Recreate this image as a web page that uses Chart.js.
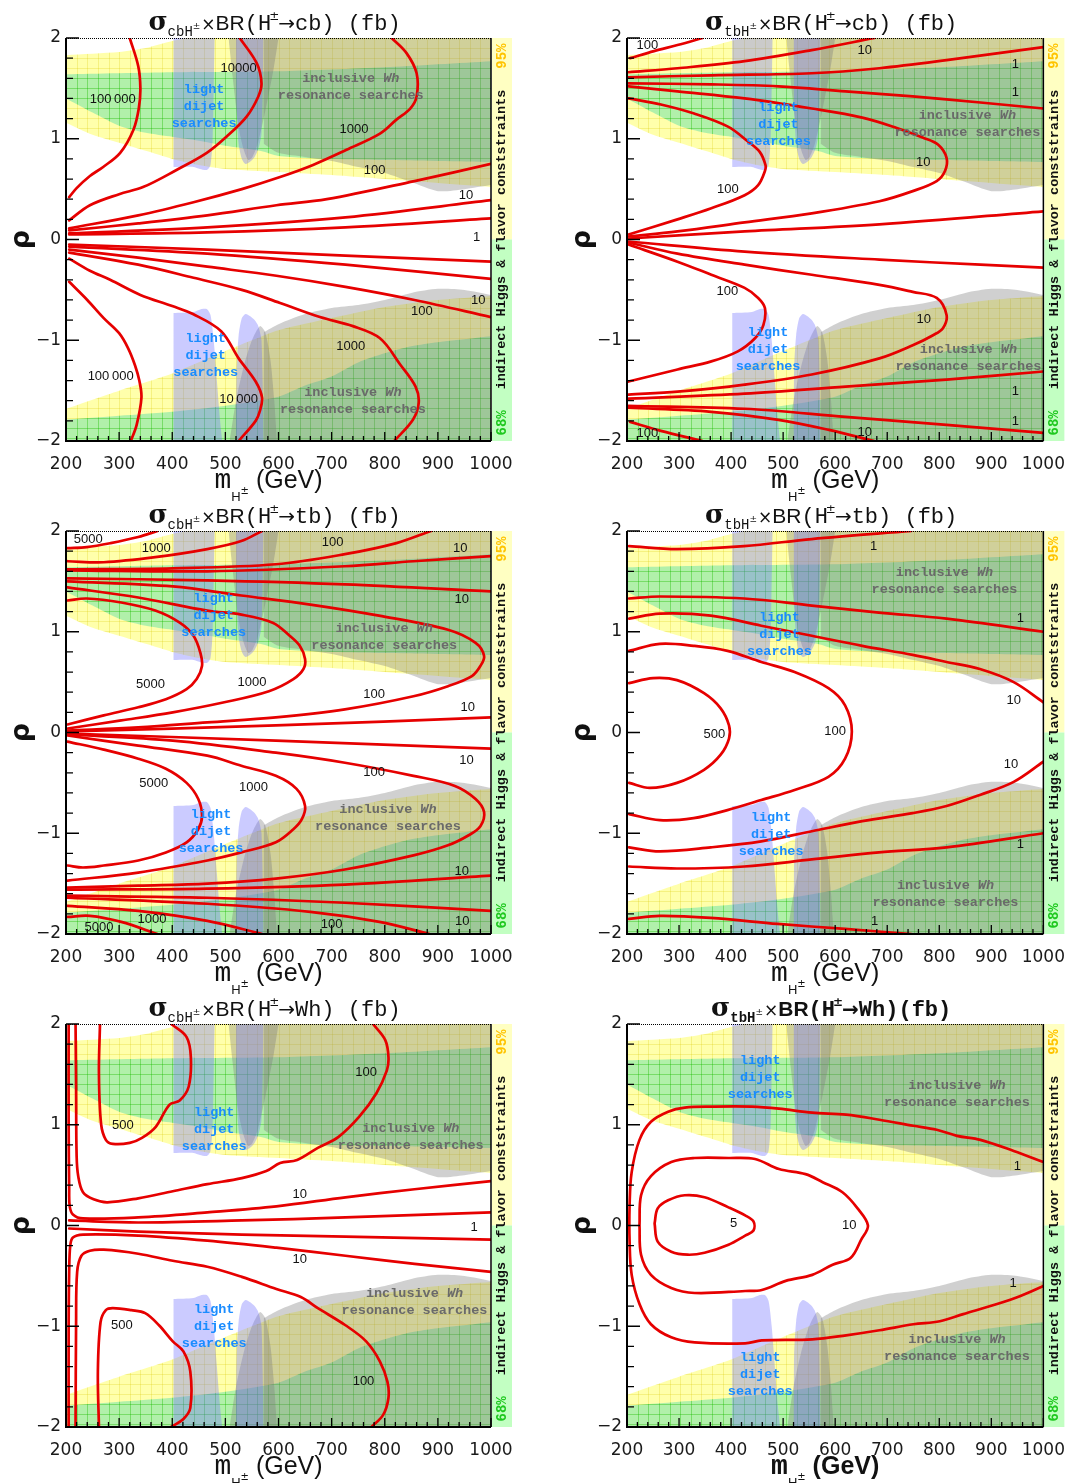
<!DOCTYPE html>
<html>
<head>
<meta charset="utf-8">
<script src="https://cdn.jsdelivr.net/npm/chart.js@4.4.1/dist/chart.umd.min.js"></script>
<style>
  html, body { margin: 0; padding: 0; background: #fff; overflow: hidden; }
  #wrap { position: relative; width: 1078px; height: 1483px; }
  canvas { position: absolute; }
</style>
</head>
<body>
<div id="wrap"></div>
<script>
// ---- constraint regions, shared by all six panels: [m_H (GeV), rho] ----
const yelUpTop = [[200,1.83],[300,1.86],[350,1.90],[400,1.97],[430,2.0],[1000,2.0]];
const yelUpBot = [[200,1.16],[250,1.04],[300,0.96],[350,0.88],[400,0.80],[450,0.74],[500,0.70],[600,0.67],[700,0.64],[800,0.60],[900,0.56],[1000,0.52]];
const grnUpTop = [[200,1.64],[400,1.66],[600,1.67],[800,1.71],[1000,1.77]];
const grnUpBot = [[200,1.40],[250,1.26],[300,1.13],[350,1.06],[400,1.02],[450,0.98],[500,0.93],[565,0.88],[600,0.83],[700,0.80],[800,0.79],[1000,0.77]];
const yelLoTop = [[200,-1.68],[300,-1.50],[400,-1.33],[480,-1.15],[550,-1.0],[600,-0.9],[700,-0.78],[800,-0.67],[900,-0.6],[1000,-0.56]];
const grnLoTop = [[200,-1.79],[300,-1.75],[400,-1.71],[500,-1.65],[600,-1.56],[650,-1.45],[700,-1.36],[750,-1.22],[800,-1.13],[850,-1.06],[900,-1.02],[1000,-0.96]];
const grayUpWide = [[572,0.95],[600,0.86],[650,0.82],[700,0.78],[750,0.72],[800,0.66],[850,0.57],[900,0.48],[950,0.50],[1000,0.54]];
const grayUpDrop = [[506,2.0],[514,1.6],[524,1.15],[534,0.90],[543,0.79],[551,0.82],[561,0.95],[576,1.3],[591,1.7],[600,2.0]];
const grayLoWide = [[572,-0.92],[600,-0.84],[650,-0.74],[700,-0.68],[750,-0.65],[800,-0.60],[850,-0.53],[900,-0.49],[950,-0.50],[1000,-0.55]];
const grayLoDrop = [[508,-2.0],[520,-1.6],[535,-1.25],[550,-1.0],[565,-0.86],[575,-0.92],[585,-1.2],[592,-1.6],[597,-2.0]];
const blueUpRect = [[402,0.72],[440,0.72],[452,0.70],[465,0.69],[472,0.74],[476,1.0],[478,1.5],[480,2.0]];
const blueUpLobe = [[520,2.0],[521,1.3],[525,0.95],[531,0.80],[538,0.75],[546,0.77],[555,0.82],[562,0.90],[568,1.05],[572,2.0]];
const blueLoRect = [[402,-0.73],[440,-0.72],[455,-0.69],[465,-0.69],[472,-0.75],[478,-1.0],[484,-1.4],[490,-1.8],[494,-2.0]];
const blueLoLobe = [[520,-2.0],[521,-1.3],[525,-0.95],[531,-0.78],[538,-0.74],[546,-0.76],[555,-0.80],[562,-0.86],[568,-1.0],[572,-2.0]];

// ---- panel 1: sigma_cbH x BR(H -> cb) ----
const cbcb_1e5u = [[206,0.42],[220,0.51],[245,0.63],[270,0.72],[302,0.86],[327,1.09],[337,1.30],[340,1.50],[336,1.72],[320,2.0]];
const cbcb_1e4u = [[206,0.19],[245,0.34],[300,0.45],[345,0.52],[408,0.69],[465,0.86],[502,1.02],[540,1.22],[562,1.42],[568,1.55],[559,1.75],[527,2.0]];
const cbcb_1e3u = [[206,0.11],[336,0.24],[440,0.37],[531,0.50],[603,0.62],[665,0.74],[728,0.89],[791,1.05],[822,1.19],[848,1.30],[860,1.42],[860,1.65],[841,1.85],[813,2.0]];
const cbcb_100u = [[206,0.09],[336,0.16],[466,0.24],[596,0.34],[691,0.40],[856,0.58],[1000,0.75]];
const cbcb_10u = [[206,0.06],[466,0.12],[726,0.22],[1000,0.39]];
const cbcb_1u = [[206,0.05],[466,0.07],[726,0.12],[1000,0.21]];
const cbcb_1l = [[206,-0.05],[466,-0.10],[726,-0.16],[1000,-0.22]];
const cbcb_10l = [[206,-0.07],[466,-0.14],[726,-0.25],[1000,-0.39]];
const cbcb_100l = [[206,-0.10],[336,-0.18],[466,-0.27],[596,-0.36],[726,-0.47],[856,-0.60],[1000,-0.77]];
const cbcb_1e3l = [[206,-0.13],[336,-0.25],[440,-0.38],[531,-0.50],[603,-0.63],[678,-0.77],[740,-0.86],[791,-0.98],[829,-1.24],[858,-1.46],[864,-1.62],[853,-1.79],[818,-2.0]];
const cbcb_1e4l = [[206,-0.19],[245,-0.31],[283,-0.40],[340,-0.55],[400,-0.66],[439,-0.74],[492,-0.91],[525,-1.18],[557,-1.41],[569,-1.57],[565,-1.70],[557,-1.80],[525,-2.0]];
const cbcb_1e5l = [[206,-0.42],[240,-0.60],[271,-0.78],[300,-0.93],[317,-1.08],[330,-1.25],[338,-1.40],[342,-1.57],[333,-1.84],[322,-2.0]];

// ---- panel 2: sigma_tbH x BR(H -> cb) ----
const tbcb_100a = [[206,1.80],[252,1.87],[297,1.93],[345,2.0]];
const tbcb_10a = [[203,1.66],[297,1.70],[426,1.77],[555,1.88],[675,2.0]];
const tbcb_1a = [[203,1.61],[362,1.63],[555,1.65],[685,1.70],[814,1.78],[1000,1.91]];
const tbcb_1b = [[203,1.55],[362,1.54],[491,1.52],[620,1.47],[749,1.42],[879,1.36],[1000,1.30]];
const tbcb_10u = [[203,1.52],[297,1.47],[426,1.40],[555,1.30],[652,1.21],[717,1.11],[769,1.01],[798,0.94],[814,0.81],[811,0.68],[795,0.58],[749,0.48],[685,0.38],[555,0.26],[426,0.17],[297,0.08],[203,0.03]];
const tbcb_100u = [[203,1.40],[265,1.34],[329,1.25],[394,1.12],[433,0.97],[455,0.87],[466,0.74],[465,0.68],[452,0.54],[426,0.44],[362,0.31],[297,0.20],[203,0.05]];
const tbcb_1u = [[203,0.01],[426,0.08],[685,0.15],[1000,0.28]];
const tbcb_1l = [[203,-0.02],[426,-0.12],[685,-0.20],[879,-0.25],[1000,-0.28]];
const tbcb_100l = [[203,-0.05],[297,-0.22],[362,-0.35],[426,-0.48],[452,-0.58],[465,-0.68],[462,-0.85],[446,-0.98],[413,-1.11],[362,-1.21],[297,-1.29],[203,-1.41]];
const tbcb_10l = [[203,-0.03],[297,-0.14],[426,-0.25],[555,-0.35],[685,-0.45],[749,-0.52],[795,-0.58],[814,-0.75],[807,-0.88],[788,-0.95],[749,-1.05],[685,-1.18],[555,-1.34],[426,-1.44],[297,-1.51],[203,-1.54]];
const tbcb_1c = [[203,-1.58],[426,-1.53],[620,-1.46],[814,-1.39],[1000,-1.31]];
const tbcb_1d = [[203,-1.65],[426,-1.68],[620,-1.76],[814,-1.84],[1000,-1.92]];
const tbcb_10b = [[203,-1.67],[362,-1.71],[491,-1.79],[588,-1.89],[675,-2.0]];
const tbcb_100b = [[206,-1.81],[265,-1.90],[345,-2.0]];

// ---- panel 3: sigma_cbH x BR(H -> tb) ----
const cbtb_5000a = [[203,1.83],[239,1.84],[284,1.88],[336,1.94],[372,2.0]];
const cbtb_1000a = [[203,1.70],[271,1.69],[368,1.74],[466,1.82],[530,1.90],[569,2.0]];
const cbtb_100a = [[203,1.62],[401,1.63],[595,1.67],[725,1.77],[822,1.88],[887,2.0]];
const cbtb_10a = [[203,1.61],[466,1.60],[725,1.65],[854,1.70],[1000,1.75]];
const cbtb_10b = [[203,1.53],[466,1.51],[725,1.47],[1000,1.40]];
const cbtb_10u = [[203,1.50],[401,1.45],[530,1.36],[660,1.27],[789,1.16],[919,1.02],[971,0.89],[987,0.76],[980,0.66],[964,0.56],[919,0.46],[854,0.36],[725,0.23],[595,0.15],[466,0.10],[336,0.05],[203,0.02]];
const cbtb_1000u = [[203,1.44],[336,1.34],[466,1.21],[530,1.17],[589,1.09],[621,0.96],[640,0.86],[650,0.73],[647,0.63],[628,0.53],[582,0.41],[498,0.30],[401,0.20],[304,0.12],[203,0.04]];
const cbtb_5000u = [[203,1.31],[239,1.33],[304,1.29],[368,1.21],[414,1.09],[440,0.96],[453,0.79],[456,0.66],[446,0.53],[427,0.43],[388,0.33],[336,0.25],[271,0.17],[203,0.08]];
const cbtb_0u = [[203,0.01],[595,0.07],[1000,0.15]];
const cbtb_0l = [[203,-0.01],[595,-0.08],[1000,-0.16]];
const cbtb_10l = [[203,-0.02],[401,-0.08],[595,-0.20],[725,-0.30],[854,-0.43],[932,-0.53],[971,-0.66],[987,-0.79],[980,-0.93],[958,-1.02],[919,-1.12],[854,-1.22],[725,-1.36],[595,-1.45],[466,-1.50],[336,-1.52],[203,-1.54]];
const cbtb_1000l = [[203,-0.03],[336,-0.13],[466,-0.23],[530,-0.33],[595,-0.43],[634,-0.56],[650,-0.73],[644,-0.86],[628,-0.96],[595,-1.09],[530,-1.19],[466,-1.27],[336,-1.39],[203,-1.47]];
const cbtb_5000l = [[203,-0.09],[271,-0.17],[336,-0.26],[388,-0.36],[427,-0.50],[449,-0.66],[456,-0.83],[449,-0.96],[427,-1.09],[388,-1.19],[336,-1.27],[271,-1.32],[232,-1.34],[203,-1.32]];
const cbtb_10c = [[203,-1.56],[466,-1.55],[725,-1.51],[1000,-1.42]];
const cbtb_10d = [[203,-1.62],[466,-1.64],[725,-1.69],[1000,-1.77]];
const cbtb_100b = [[203,-1.64],[466,-1.70],[660,-1.78],[790,-1.88],[884,-2.0]];
const cbtb_1000b = [[203,-1.72],[336,-1.77],[466,-1.87],[569,-2.0]];
const cbtb_5000b = [[203,-1.83],[245,-1.82],[304,-1.88],[372,-2.0]];

// ---- panel 4: sigma_tbH x BR(H -> tb) ----
const tbtb_1a = [[204,1.85],[296,1.82],[425,1.85],[555,1.92],[746,2.0]];
const tbtb_1b = [[204,1.33],[263,1.35],[425,1.33],[555,1.26],[684,1.19],[814,1.13],[1000,1.0]];
const tbtb_10u = [[204,1.13],[263,1.18],[361,1.16],[458,1.06],[555,0.96],[652,0.86],[749,0.77],[814,0.70],[878,0.63],[943,0.50],[1000,0.30]];
const tbtb_100 = [[204,0.81],[263,0.88],[328,0.86],[393,0.81],[458,0.70],[522,0.60],[587,0.44],[619,0.27],[632,0.01],[619,-0.26],[587,-0.44],[522,-0.57],[458,-0.67],[393,-0.77],[328,-0.85],[263,-0.87],[204,-0.81]];
const tbtb_500 = [[204,0.49],[250,0.54],[296,0.52],[348,0.39],[380,0.24],[396,0.07],[396,-0.06],[380,-0.22],[348,-0.37],[296,-0.50],[244,-0.55],[204,-0.50]];
const tbtb_10l = [[204,-1.14],[263,-1.18],[361,-1.14],[458,-1.08],[555,-0.98],[652,-0.88],[749,-0.80],[814,-0.73],[878,-0.62],[943,-0.49],[1000,-0.29]];
const tbtb_1c = [[204,-1.33],[296,-1.35],[425,-1.33],[555,-1.26],[684,-1.19],[814,-1.14],[1000,-1.0]];
const tbtb_1d = [[204,-1.85],[263,-1.82],[361,-1.84],[490,-1.90],[619,-1.95],[746,-2.0]];

// ---- panel 5: sigma_cbH x BR(H -> Wh) ----
const cbwh_10u = [[1000,0.44],[856,0.36],[726,0.28],[596,0.19],[466,0.13],[336,0.08],[232,0.07],[213,0.11],[207,0.19],[206,0.36],[205,1.01],[205,2.0]];
const cbwh_1u = [[206,0.05],[336,0.03],[531,0.05],[726,0.08],[1000,0.13]];
const cbwh_100u = [[218,2.0],[219,1.34],[220,0.69],[223,0.49],[232,0.33],[252,0.26],[278,0.23],[336,0.27],[401,0.34],[466,0.41],[531,0.47],[577,0.54],[603,0.62],[635,0.65],[674,0.77],[713,0.88],[752,1.08],[784,1.31],[804,1.54],[807,1.67],[801,1.84],[778,2.0]];
const cbwh_500u = [[264,2.0],[262,1.51],[266,1.01],[275,0.85],[288,0.81],[320,0.82],[343,0.87],[369,0.98],[395,1.20],[414,1.24],[431,1.38],[435,1.67],[427,1.87],[398,2.0]];
const cbwh_1l = [[206,-0.03],[336,-0.06],[531,-0.09],[726,-0.11],[1000,-0.14]];
const cbwh_10l = [[1000,-0.46],[856,-0.38],[726,-0.30],[596,-0.22],[466,-0.15],[336,-0.10],[232,-0.09],[213,-0.12],[208,-0.20],[206,-0.46],[205,-1.0],[205,-2.0]];
const cbwh_100l = [[218,-2.0],[219,-0.96],[221,-0.46],[229,-0.30],[245,-0.25],[271,-0.24],[336,-0.28],[401,-0.35],[466,-0.41],[531,-0.51],[596,-0.63],[642,-0.71],[674,-0.82],[726,-0.99],[765,-1.15],[791,-1.35],[805,-1.55],[807,-1.71],[797,-1.88],[775,-2.0]];
const cbwh_500l = [[262,-2.0],[260,-1.45],[265,-0.96],[275,-0.84],[288,-0.82],[323,-0.84],[349,-0.87],[375,-0.99],[401,-1.15],[421,-1.25],[434,-1.45],[434,-1.81],[421,-1.92],[398,-2.0]];

// ---- panel 6: sigma_tbH x BR(H -> Wh) ----
const tbwh_1 = [[1000,0.63],[943,0.74],[879,0.85],[834,0.89],[795,0.95],[750,0.99],[685,1.05],[621,1.10],[556,1.12],[492,1.16],[440,1.18],[363,1.18],[311,1.17],[279,1.13],[246,1.03],[224,0.85],[209,0.53],[205,0.20],[205,-0.16],[209,-0.49],[224,-0.78],[246,-0.98],[285,-1.11],[330,-1.16],[427,-1.17],[459,-1.14],[556,-1.13],[621,-1.09],[685,-1.04],[750,-0.98],[801,-0.95],[846,-0.88],[911,-0.78],[956,-0.70],[1000,-0.60]];
const tbwh_10 = [[224,0.0],[227,0.30],[246,0.49],[285,0.63],[330,0.67],[395,0.67],[446,0.66],[492,0.56],[543,0.51],[576,0.43],[614,0.33],[643,0.17],[663,0.0],[650,-0.14],[630,-0.32],[595,-0.39],[556,-0.49],[505,-0.55],[459,-0.64],[427,-0.65],[330,-0.67],[285,-0.62],[246,-0.49],[227,-0.29],[224,0.0]];
const tbwh_5 = [[253,0.02],[259,0.17],[279,0.25],[311,0.30],[349,0.28],[395,0.18],[427,0.10],[443,0.04],[443,-0.05],[427,-0.10],[395,-0.19],[349,-0.27],[317,-0.29],[285,-0.26],[259,-0.16],[253,0.02]];

// ---- contour value labels: [text, m_H, rho] ----
const cbcbLabels = [['100\u2009000',288,1.39],['10000',525,1.70],['1000',742,1.09],['100',781,0.69],['10',953,0.44],['1',973,0.02],['10',976,-0.60],['100',870,-0.71],['1000',736,-1.06],['100\u2009000',284,-1.36],['10\u2009000',525,-1.59]];
const tbcbLabels = [['100',239,1.93],['10',657,1.88],['1',946,1.74],['1',946,1.46],['10',769,0.77],['100',394,0.50],['100',393,-0.52],['10',770,-0.79],['1',946,-1.51],['1',946,-1.81],['10',657,-1.91],['100',239,-1.92]];
const cbtbLabels = [['5000',242,1.92],['1000',370,1.83],['100',702,1.89],['10',942,1.83],['10',945,1.32],['5000',359,0.48],['1000',550,0.50],['100',780,0.38],['10',956,0.25],['10',954,-0.28],['100',780,-0.40],['5000',365,-0.51],['1000',553,-0.55],['10',945,-1.38],['1000',362,-1.86],['100',700,-1.90],['10',946,-1.88],['5000',262,-1.93]];
const tbtbLabels = [['1',674,1.85],['1',956,1.13],['10',943,0.32],['500',368,-0.02],['100',600,0.01],['10',938,-0.32],['1',956,-1.11],['1',676,-1.88]];
const cbwhLabels = [['500',307,0.99],['100',765,1.52],['10',640,0.31],['1',968,-0.02],['10',640,-0.34],['500',305,-0.99],['100',760,-1.55]];
const tbwhLabels = [['5',405,0.02],['10',627,0.0],['1',950,0.59],['1',942,-0.57]];

const panels = [
  {row:0, col:0, prod:'cb', decay:'cb', labels:cbcbLabels, dijet:[[460,1.32],[463,-1.15]], wh:[[736,1.51],[740,-1.60]],
   curves:[cbcb_1e5u,cbcb_1e4u,cbcb_1e3u,cbcb_100u,cbcb_10u,cbcb_1u,cbcb_1l,cbcb_10l,cbcb_100l,cbcb_1e3l,cbcb_1e4l,cbcb_1e5l]},
  {row:0, col:1, prod:'tb', decay:'cb', labels:tbcbLabels, dijet:[[491,1.14],[471,-1.09]], wh:[[854,1.15],[856,-1.18]],
   curves:[tbcb_100a,tbcb_10a,tbcb_1a,tbcb_1b,tbcb_10u,tbcb_100u,tbcb_1u,tbcb_1l,tbcb_100l,tbcb_10l,tbcb_1c,tbcb_1d,tbcb_10b,tbcb_100b]},
  {row:1, col:0, prod:'cb', decay:'tb', labels:cbtbLabels, dijet:[[478,1.16],[473,-0.98]], wh:[[799,0.95],[806,-0.85]],
   curves:[cbtb_5000a,cbtb_1000a,cbtb_100a,cbtb_10a,cbtb_10b,cbtb_10u,cbtb_1000u,cbtb_5000u,cbtb_0u,cbtb_0l,cbtb_10l,cbtb_1000l,cbtb_5000l,cbtb_10c,cbtb_10d,cbtb_100b,cbtb_1000b,cbtb_5000b]},
  {row:1, col:1, prod:'tb', decay:'tb', labels:tbtbLabels, dijet:[[493,0.97],[477,-1.01]], wh:[[810,1.50],[812,-1.60]],
   curves:[tbtb_1a,tbtb_1b,tbtb_10u,tbtb_100,tbtb_500,tbtb_10l,tbtb_1c,tbtb_1d]},
  {row:2, col:0, prod:'cb', decay:'Wh', labels:cbwhLabels, dijet:[[479,0.95],[479,-1.00]], wh:[[849,0.88],[856,-0.76]],
   curves:[cbwh_10u,cbwh_1u,cbwh_100u,cbwh_500u,cbwh_1l,cbwh_10l,cbwh_100l,cbwh_500l]},
  {row:2, col:1, prod:'tb', decay:'Wh', bold:true, labels:tbwhLabels, dijet:[[456,1.47],[456,-1.48]], wh:[[834,1.30],[834,-1.22]],
   curves:[tbwh_1,tbwh_10,tbwh_5]}
];

const W = 539, H = 505, ROWH = 493;
const plotL = [66, 88], plotR = [491, 512];
const GRAY = 'rgba(120,120,120,0.35)';
const BLUE = 'rgba(110,110,255,0.36)';

function hatch(fill, line, ox, oy) {
  const c = document.createElement('canvas');
  c.width = 85; c.height = 40;
  const g = c.getContext('2d');
  g.fillStyle = fill; g.fillRect(0, 0, 85, 40);
  g.fillStyle = line;
  for (let i = 0; i < 8; i++) g.fillRect(Math.round(i * 10.625), 0, 1, 40);
  for (let j = 0; j < 4; j++) g.fillRect(0, j * 10, 85, 1);
  const p = g.createPattern(c, 'repeat');
  p.setTransform(new DOMMatrix().translate(ox, oy));
  return p;
}

function pts(a) { return a.map(p => ({x: p[0], y: p[1]})); }

function region(a, fill, bg, order) {
  return {data: pts(a), fill: fill, backgroundColor: bg, borderColor: 'rgba(0,0,0,0)',
          borderWidth: 0, pointRadius: 0, tension: 0.25, order: order};
}

function contour(a) {
  return {data: pts(a), fill: false, borderColor: '#e60000', borderWidth: 2.7, pointRadius: 0,
          tension: 0.35, order: 0, borderJoinStyle: 'round', borderCapStyle: 'round'};
}

function rotText(ctx, t, cx, cy, font, color) {
  ctx.save();
  ctx.translate(cx, cy);
  ctx.rotate(-Math.PI / 2);
  ctx.font = font; ctx.fillStyle = color;
  ctx.textAlign = 'center'; ctx.textBaseline = 'middle';
  ctx.fillText(t, 0, 0);
  ctx.restore();
}

// draws a row of [text, font, dy, dx] runs centred on cx
function runs(ctx, list, cx, base, color) {
  ctx.fillStyle = color;
  ctx.textAlign = 'left'; ctx.textBaseline = 'alphabetic';
  let total = 0;
  list.forEach(r => { ctx.font = r[1]; total += ctx.measureText(r[0]).width + (r[3] || 0); });
  let x = cx - total / 2;
  list.forEach(r => {
    ctx.font = r[1];
    x += (r[3] || 0);
    ctx.fillText(r[0], x, base + (r[2] || 0));
    x += ctx.measureText(r[0]).width;
  });
}

function decor(p) {
  return {
    id: 'decor',
    afterDatasetsDraw(chart) {
      const {ctx, chartArea: a, scales: {x, y}} = chart;
      const X = v => x.getPixelForValue(v), Y = v => y.getPixelForValue(v);
      ctx.save();

      // side bar
      const sx = a.right + 1, y0 = Y(0);
      ctx.fillStyle = '#ffffc2'; ctx.fillRect(sx, a.top, 20, y0 - a.top);
      ctx.fillStyle = '#c2ffc2'; ctx.fillRect(sx, y0, 20, a.bottom - y0);
      rotText(ctx, 'indirect Higgs & flavor conststraints', sx + 10, Y(0), 'bold 13.5px "Liberation Mono"', '#111');
      rotText(ctx, '95%', sx + 10, Y(1.82), 'bold 14px "Liberation Mono"', '#ffc400');
      rotText(ctx, '68%', sx + 10, Y(-1.82), 'bold 14px "Liberation Mono"', '#1ec81e');

      // frame
      ctx.strokeStyle = '#000';
      ctx.lineWidth = 2;
      ctx.beginPath();
      ctx.moveTo(a.left, a.top); ctx.lineTo(a.left, a.bottom); ctx.lineTo(a.right, a.bottom);
      ctx.stroke();
      ctx.lineWidth = 1.5;
      ctx.beginPath(); ctx.moveTo(a.right, a.top); ctx.lineTo(a.right, a.bottom); ctx.stroke();
      ctx.lineWidth = 1; ctx.setLineDash([1, 1]);
      ctx.beginPath(); ctx.moveTo(a.left, a.top + 0.5); ctx.lineTo(a.right, a.top + 0.5); ctx.stroke();
      ctx.setLineDash([]);

      // inward ticks
      ctx.lineWidth = 1.3;
      ctx.beginPath();
      for (let m = 200; m <= 1000; m += 20) {
        const px = X(m), len = m % 100 === 0 ? 9 : 5;
        ctx.moveTo(px, a.bottom); ctx.lineTo(px, a.bottom - len);
      }
      for (let k = -10; k <= 10; k++) {
        const py = Y(k / 5), len = k % 5 === 0 ? 13 : 7;
        ctx.moveTo(a.left, py); ctx.lineTo(a.left + len, py);
      }
      ctx.stroke();

      // region labels
      ctx.textAlign = 'center'; ctx.textBaseline = 'middle';
      p.dijet.forEach(([m, r]) => {
        ctx.font = 'bold 13.5px "Liberation Mono"'; ctx.fillStyle = '#1a8cff';
        ['light', 'dijet', 'searches'].forEach((t, i) => ctx.fillText(t, X(m), Y(r) + (i - 1) * 17));
      });
      p.wh.forEach(([m, r]) => {
        const cx = X(m), cy = Y(r);
        ctx.fillStyle = '#6a6a6a';
        ctx.font = 'bold 13.5px "Liberation Mono"';
        const w1 = ctx.measureText('inclusive ').width;
        ctx.font = 'italic bold 13.5px "Liberation Mono"';
        const w2 = ctx.measureText('Wh').width;
        ctx.textAlign = 'left';
        ctx.font = 'bold 13.5px "Liberation Mono"';
        ctx.fillText('inclusive ', cx - (w1 + w2) / 2, cy - 8.5);
        ctx.font = 'italic bold 13.5px "Liberation Mono"';
        ctx.fillText('Wh', cx - (w1 + w2) / 2 + w1, cy - 8.5);
        ctx.textAlign = 'center';
        ctx.font = 'bold 13.5px "Liberation Mono"';
        ctx.fillText('resonance searches', cx, cy + 8.5);
      });

      // contour values
      ctx.font = '13px "Liberation Sans"'; ctx.fillStyle = '#111';
      p.labels.forEach(([t, m, r]) => ctx.fillText(t, X(m), Y(r)));
      ctx.restore();
    },
    afterDraw(chart) {
      const {ctx, chartArea: a} = chart;
      const cx = (a.left + a.right) / 2;
      const b = p.bold ? 'bold ' : '';
      ctx.save();
      runs(ctx, [
        ['\u03c3', 'bold 26px "DejaVu Serif"', 0, 0],
        [p.prod + 'H', b + '14px "Liberation Mono"', 6, 0],
        ['\u00b1', '9px "DejaVu Sans"', -1, 0],
        ['\u00d7', '17px "DejaVu Sans"', 0, 1],
        ['BR', b + '21px "Liberation Sans"', 0, 0],
        ['(H', b + '22px "Liberation Mono"', 0, 0],
        ['\u00b1', b + '12px "DejaVu Sans"', -10, -2],
        ['\u2192', b + '20px "DejaVu Sans"', 0, -1],
        [p.decay + (p.bold ? ')(fb)' : ') (fb)'), b + '22px "Liberation Mono"', 0, 0]
      ], cx - 4, 30, '#111');
      runs(ctx, [
        ['m', b + '28px "Liberation Mono"', 0, 0],
        ['H', '13px "Liberation Sans"', 13, 0],
        ['\u00b1', '10px "DejaVu Sans"', 6, 0],
        [' (GeV)', b + '25px "Liberation Sans"', 0, 0]
      ], cx - 10, 488, '#111');
      rotText(ctx, '\u03c1', a.left - 44, (a.top + a.bottom) / 2, 'bold 27px "DejaVu Sans"', '#111');
      ctx.restore();
    }
  };
}

const wrap = document.getElementById('wrap');
panels.forEach(p => {
  const cv = document.createElement('canvas');
  cv.width = W; cv.height = H;
  cv.style.width = W + 'px'; cv.style.height = H + 'px';
  cv.style.left = (p.col * W) + 'px'; cv.style.top = (p.row * ROWH) + 'px';
  wrap.appendChild(cv);

  const L = plotL[p.col], R = plotR[p.col];
  const yelPat = hatch('rgba(255,255,0,0.33)', 'rgba(215,200,0,0.25)', L, 38);
  const grnPat = hatch('rgba(100,225,170,0.5)', 'rgba(0,190,0,0.3)', L, 38);

  const datasets = [
    region(yelUpBot, false, 'rgba(0,0,0,0)', 5),
    region(yelUpTop, '-1', yelPat, 5),
    region(yelLoTop, 'start', yelPat, 5),
    region(grnUpBot, false, 'rgba(0,0,0,0)', 4),
    region(grnUpTop, '-1', grnPat, 4),
    region(grnLoTop, 'start', grnPat, 4),
    region(grayUpWide, 'end', GRAY, 3),
    region(grayLoWide, 'start', GRAY, 3),
    region(grayUpDrop, 'end', GRAY, 2),
    region(grayLoDrop, 'start', GRAY, 2),
    region(blueUpRect, 'end', BLUE, 1),
    region(blueUpLobe, 'end', BLUE, 1),
    region(blueLoRect, 'start', BLUE, 1),
    region(blueLoLobe, 'start', BLUE, 1)
  ].concat(p.curves.map(contour));

  new Chart(cv, {
    type: 'line',
    data: {datasets: datasets},
    options: {
      responsive: false,
      animation: false,
      devicePixelRatio: 1,
      layout: {padding: {left: L - 40, right: W - R, top: 38, bottom: H - 441 - 40}},
      plugins: {legend: {display: false}, tooltip: {enabled: false}},
      scales: {
        x: {
          type: 'linear', min: 200, max: 1000,
          afterFit: s => { s.height = 40; },
          grid: {display: false, drawTicks: false},
          border: {display: false},
          ticks: {stepSize: 100, padding: 13, autoSkip: false, maxRotation: 0, color: '#1a1a1a',
                  font: {family: 'DejaVu Sans', size: 17}, callback: v => String(v)}
        },
        y: {
          type: 'linear', min: -2, max: 2,
          afterFit: s => { s.width = 40; },
          grid: {display: false, drawTicks: false},
          border: {display: false},
          ticks: {stepSize: 1, padding: 5, color: '#1a1a1a', font: {family: 'DejaVu Sans', size: 17},
                  callback: v => v < 0 ? '\u2212' + (-v) : String(v)}
        }
      }
    },
    plugins: [decor(p)]
  });
});
</script>
</body>
</html>
